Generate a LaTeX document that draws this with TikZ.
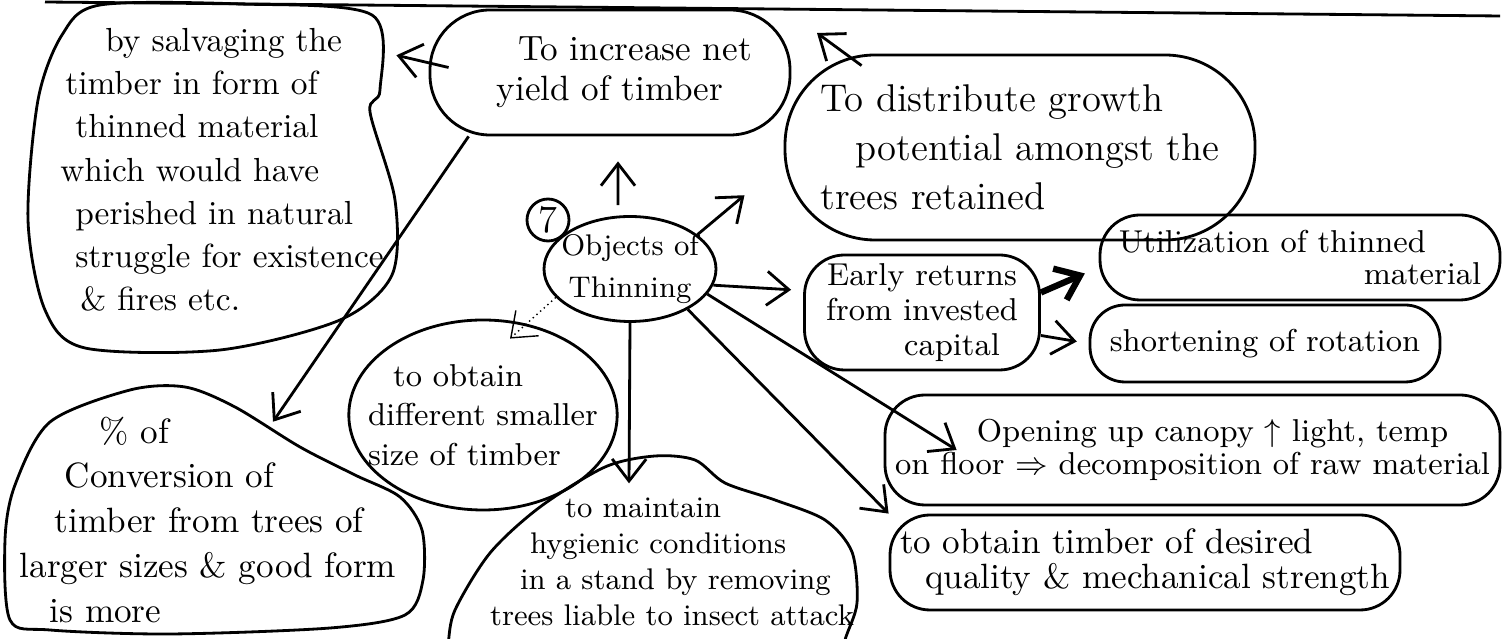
\documentclass[tikz,border=0pt]{standalone}
\usetikzlibrary{arrows.meta,shapes.geometric}
\newcommand{\sz}[2]{\fontsize{#1}{#2}\selectfont}
\begin{document}
\begin{tikzpicture}[>={Straight Barb[length=2.2mm,width=3.4mm]}, thick,
  box/.style={draw, rectangle, rounded corners=#1, inner sep=1pt, align=center},
  box/.default=4mm,
  blob/.style={inner sep=1pt, align=left}]
\useasboundingbox (0,0) rectangle (15.07,-6.39);
% ruled line along the top of the page
\draw (0.45,-0.02) -- (15.0,-0.16);

% centre
\node[draw, ellipse, minimum width=1.72cm, minimum height=1.05cm, inner xsep=-2mm, inner ysep=-0.5mm, align=center, font=\sz{8.5}{12}](A) at (6.30,-2.69){Objects of\\Thinning};
\node[draw, circle, minimum size=0.42cm, inner sep=0pt, font=\sz{11}{13}](A0) at (5.48,-2.20){7};

% top row
\node[box=6mm, minimum width=3.6cm, minimum height=1.25cm, font=\sz{10}{11.5}](B) at (6.10,-0.725){\hspace*{5mm}To increase net\\yield of timber};
\node[box=9mm, minimum width=4.7cm, minimum height=1.85cm, align=left, font=\sz{11}{14}](D) at (10.20,-1.475){To distribute growth\\\hspace*{3.5mm}potential amongst the\\trees retained};

% left blobs
\node[blob, font=\sz{9.5}{12.3}](B1) at (2.22,-1.70){\hspace*{4.5mm}by salvaging the\\\hspace*{0.5mm}timber in form of\\\hspace*{1.5mm}thinned material\\which would have\\\hspace*{1.5mm}perished in natural\\\hspace*{1.5mm}struggle for existence\\\hspace*{2mm}\& fires etc.};
\draw plot[smooth cycle] coordinates {(1.0,-0.05) (2.4,-0.04) (3.72,-0.15) (3.80,-0.90) (3.70,-1.12) (3.95,-2.0) (3.92,-2.75) (3.40,-3.20) (2.2,-3.50) (0.85,-3.48) (0.45,-3.1) (0.28,-2.2) (0.38,-1.0) (0.62,-0.35)};
\node[blob, font=\sz{10}{12.8}](B2) at (2.08,-5.20){\hspace*{8mm}\% of\\\hspace*{4.5mm}Conversion of\\\hspace*{3.5mm}timber from trees of\\larger sizes \& good form\\\hspace*{3mm}is more};
\draw plot[smooth cycle] coordinates {(0.10,-6.20) (0.05,-5.40) (0.15,-4.85) (0.50,-4.22) (1.30,-3.90) (1.85,-3.87) (2.35,-4.07) (3.00,-4.47) (3.55,-4.75) (4.00,-4.97) (4.22,-5.30) (4.23,-5.80) (4.05,-6.15) (3.30,-6.28) (1.70,-6.34) (0.50,-6.30)};

% lower middle
\node[draw, ellipse, minimum width=2.65cm, minimum height=1.9cm, inner xsep=-2mm, inner ysep=0pt, align=left, font=\sz{9}{11.3}](M) at (4.83,-4.15){\hspace*{2.5mm}to obtain\\different smaller\\size of timber};
\node[blob, font=\sz{8.5}{10.2}](H) at (6.72,-5.62){\hspace*{7.5mm}to maintain\\\hspace*{4mm}hygienic conditions\\\hspace*{3mm}in a stand by removing\\trees liable to insect attack};
\draw plot[smooth cycle] coordinates {(4.48,-6.45) (4.55,-6.10) (4.90,-5.53) (5.40,-5.07) (6.05,-4.67) (6.55,-4.56) (6.95,-4.60) (7.25,-4.83) (7.75,-5.00) (8.25,-5.20) (8.52,-5.52) (8.57,-6.03) (8.45,-6.40) (8.4,-6.7) (6.5,-6.8) (4.45,-6.7)};

% right side
\node[box=4mm, minimum width=2.35cm, minimum height=1.15cm, font=\sz{9}{10}](E) at (9.22,-3.125){Early returns\\from invested\\\hspace*{6mm}capital};
\node[box=4mm, minimum width=4.0cm, minimum height=0.85cm, align=left, font=\sz{9}{9}](E1) at (13.0,-2.575){Utilization of thinned\\\hspace*{24.5mm}material};
\node[box=3.5mm, minimum width=3.5cm, minimum height=0.77cm, font=\sz{9}{11}](E2) at (12.65,-3.435){shortening of rotation};
\node[box=4mm, minimum width=6.15cm, minimum height=1.1cm, font=\sz{9}{9.5}](C) at (11.925,-4.5){\hspace*{4mm}Opening up canopy $\uparrow$ light, temp\\on floor $\Rightarrow$ decomposition of raw material};
\node[box=4mm, minimum width=5.1cm, minimum height=0.95cm, align=left, font=\sz{10}{10}](Q) at (11.45,-5.625){to obtain timber of desired\\\hspace*{2.5mm}quality \& mechanical strength};

\draw[->, shorten <=1mm, shorten >=2.5mm]([xshift=-1.2mm]A.north)--([xshift=0.8mm]B.south);
\draw[->, shorten >=5.1mm](A.27)--([yshift=-1.5mm]D.west);
\draw[->, shorten >=1.2mm](A.-11)--([yshift=2.2mm]E.west);
\draw[->](A.-18)--([xshift=7.3mm]C.west);
\draw[->](A.-35)--(Q.north west);
\draw[->](A.south)--([shift={(-4.3mm,1mm)}]H.north);
\draw[->, thin, densely dotted](A.201)--([shift={(2.7mm,-2mm)}]M.north);
\draw[->, line width=1.8pt, shorten >=1.5mm]([yshift=2mm]E.east)--([yshift=-1mm]E1.west);
\draw[->, shorten >=1.2mm]([yshift=-2.3mm]E.east)--(E2.west);
\draw[->, shorten >=0.8mm]([xshift=2mm,yshift=0.5mm]B.west)--([yshift=-3mm]B1.north east);
\draw[->]([xshift=4mm]B.south west)--([shift={(6.5mm,-1mm)}]B2.north);
\coordinate (D0) at (8.17,-0.33);
\draw[->]([shift={(7.8mm,-1.2mm)}]D.north west)--(D0);
\end{tikzpicture}
\end{document}
